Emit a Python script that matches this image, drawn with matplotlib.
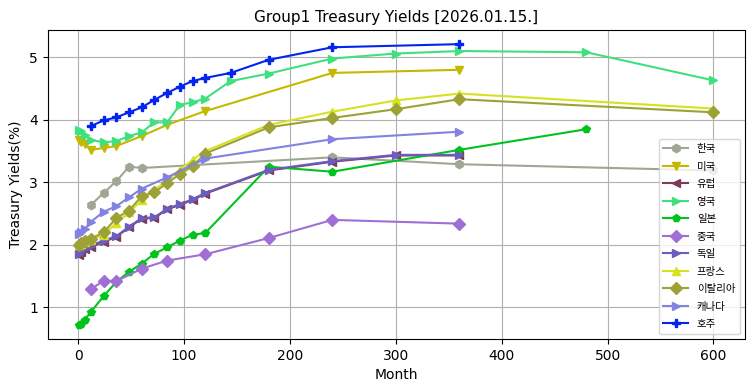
import matplotlib
matplotlib.use("Agg")
import matplotlib.pyplot as plt

plt.rcParams['font.family'] = ['DejaVu Sans']

title = "Group1 Treasury Yields [2026.01.15.]"

kr_m = [12, 24, 36, 48, 60, 240, 360, 600]
kr_y = [2.64, 2.83, 3.02, 3.25, 3.23, 3.40, 3.29, 3.19]

us_m = [1, 3, 6, 12, 24, 36, 60, 84, 120, 240, 360]
us_y = [3.67, 3.65, 3.62, 3.52, 3.55, 3.58, 3.74, 3.92, 4.14, 4.75, 4.80]

eu_m = [1, 3, 6, 12, 24, 36, 48, 60, 72, 84, 96, 108, 120, 180, 240, 300, 360]
eu_y = [1.84, 1.88, 1.93, 1.97, 2.05, 2.13, 2.28, 2.42, 2.43, 2.57, 2.64, 2.72, 2.82, 3.19, 3.33, 3.43, 3.43]

uk_m = [1, 3, 6, 12, 24, 36, 48, 60, 72, 84, 96, 108, 120, 144, 180, 240, 300, 360, 480, 600]
uk_y = [3.84, 3.82, 3.76, 3.68, 3.64, 3.66, 3.74, 3.80, 3.96, 3.96, 4.24, 4.28, 4.34, 4.62, 4.74, 4.98, 5.06, 5.10, 5.08, 4.63]

jp_m = [1, 3, 6, 12, 24, 36, 48, 60, 72, 84, 96, 108, 120, 180, 240, 360, 480]
jp_y = [0.72, 0.74, 0.80, 0.93, 1.18, 1.41, 1.57, 1.70, 1.86, 1.96, 2.07, 2.16, 2.19, 3.25, 3.17, 3.52, 3.85]

cn_m = [12, 24, 36, 60, 84, 120, 180, 240, 360]
cn_y = [1.29, 1.43, 1.42, 1.62, 1.75, 1.85, 2.11, 2.40, 2.34]

de_m = [1, 3, 6, 12, 24, 36, 48, 60, 72, 84, 96, 108, 120, 180, 240, 300, 360]
de_y = [1.86, 1.90, 1.95, 1.99, 2.07, 2.14, 2.29, 2.43, 2.44, 2.58, 2.65, 2.73, 2.83, 3.20, 3.34, 3.44, 3.44]

fr_m = [1, 3, 6, 12, 24, 36, 48, 60, 72, 84, 96, 108, 120, 180, 240, 300, 360, 600]
fr_y = [2.00, 2.02, 2.05, 2.08, 2.16, 2.35, 2.52, 2.72, 2.88, 3.03, 3.20, 3.36, 3.50, 3.92, 4.13, 4.31, 4.42, 4.18]

it_m = [1, 3, 6, 12, 24, 36, 48, 60, 72, 84, 96, 108, 120, 180, 240, 300, 360, 600]
it_y = [2.00, 2.03, 2.06, 2.10, 2.20, 2.43, 2.55, 2.78, 2.84, 2.99, 3.13, 3.26, 3.46, 3.88, 4.03, 4.17, 4.33, 4.12]

ca_m = [1, 3, 6, 12, 24, 36, 48, 60, 84, 120, 240, 360]
ca_y = [2.17, 2.21, 2.25, 2.37, 2.53, 2.62, 2.76, 2.90, 3.08, 3.38, 3.69, 3.81]

au_m = [12, 24, 36, 48, 60, 72, 84, 96, 108, 120, 144, 180, 240, 360]
au_y = [3.90, 3.99, 4.04, 4.12, 4.20, 4.32, 4.43, 4.53, 4.62, 4.67, 4.75, 4.96, 5.16, 5.21]

series = [
    ("한국", kr_m, kr_y, "#9ea793", "h"),
    ("미국", us_m, us_y, "#c4b800", "v"),
    ("유럽", eu_m, eu_y, "#7e3b58", "<"),
    ("영국", uk_m, uk_y, "#3fe07e", ">"),
    ("일본", jp_m, jp_y, "#00c41c", "p"),
    ("중국", cn_m, cn_y, "#a06fd6", "D"),
    ("독일", de_m, de_y, "#6b5cbd", ">"),
    ("프랑스", fr_m, fr_y, "#d6e21e", "^"),
    ("이탈리아", it_m, it_y, "#9ea236", "D"),
    ("캐나다", ca_m, ca_y, "#8282e0", ">"),
    ("호주", au_m, au_y, "#0324ee", "P"),
]

fig, ax = plt.subplots(figsize=(7.55, 3.91), dpi=100)
fig.subplots_adjust(left=0.063, right=0.987, bottom=0.133, top=0.923)

for name, m, y, c, mk in series:
    ax.plot(m, y, color=c, marker=mk, markersize=6, linewidth=1.5, label=name)

ax.set_title(title, fontsize=11)
ax.set_xlabel("Month", fontsize=10)
ax.set_ylabel("Treasury Yields(%)", fontsize=10)
ax.grid(True)
ax.legend(loc="lower right", prop={'family': ['Noto Sans CJK KR', 'DejaVu Sans'], 'size': 7.5},
          handlelength=2.4, labelspacing=0.72, borderpad=0.45)

fig.savefig("out.png", dpi=100)
